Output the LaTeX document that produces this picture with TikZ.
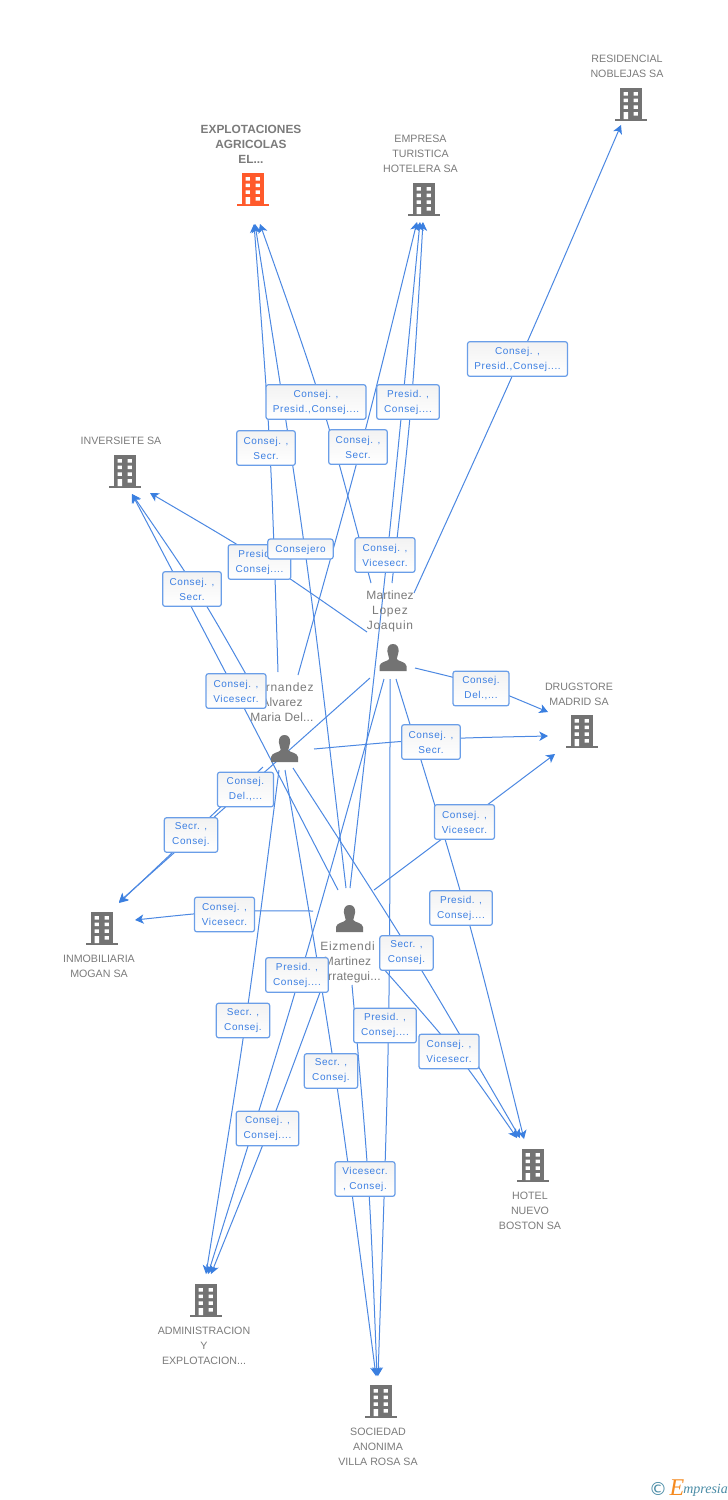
\documentclass[tikz,border=0pt]{standalone}
\usepackage{fontspec}
\setmainfont{Liberation Sans}
\newfontfamily\labfont[LetterSpace=6]{Liberation Sans}
\newfontfamily\pertight[LetterSpace=1.5]{Liberation Sans}
\newfontfamily\logofont{Liberation Serif}
\newfontfamily\symfont{DejaVu Sans}
\usetikzlibrary{arrows.meta,calc}
\definecolor{edgeblue}{HTML}{4C88E2}
\definecolor{tipblue}{HTML}{3A7FE0}
\definecolor{boxblue}{HTML}{6A9EE8}
\definecolor{labblue}{HTML}{3C7FE2}
\definecolor{icongrey}{HTML}{737373}
\definecolor{textgrey}{HTML}{7B7B7B}
\definecolor{hotorange}{HTML}{FF5A2B}
\definecolor{logoteal}{HTML}{4A8CA6}
\definecolor{logoorange}{HTML}{F58A1F}
\newcommand{\tightline}[1]{{\pertight\fontsize{9}{11.25}\selectfont #1}}
\tikzset{
  edge/.style={draw=edgeblue,line width=0.75pt,-{Stealth[length=6.5pt,width=7pt,inset=1.8pt,color=tipblue]}},
  lab/.style={draw=boxblue,line width=0.9pt,rounded corners=1.8pt,top color=black!5,bottom color=white,
    inner sep=0pt,minimum height=26pt,align=center,text=labblue,font=\labfont\fontsize{7.5}{11.25}\selectfont,
    execute at begin node=\rule{0pt}{7pt}},
  cotext/.style={align=center,text=textgrey,inner sep=0pt,font=\fontsize{8}{11.25}\selectfont},
  cobold/.style={align=center,text=textgrey,inner sep=0pt,font=\bfseries\fontsize{8.9}{11.25}\selectfont},
  pertext/.style={align=center,text=textgrey,inner sep=0pt,font=\labfont\fontsize{9}{11.25}\selectfont},
  pics/bldg/.style={code={
    \fill[#1] (-11,0) rectangle (11,32);
    \fill[#1] (-16,31) rectangle (16,33);
    \fill[white] (-7.5,4) rectangle (-3.2,7.5) (2.5,4) rectangle (6.8,7.5)
      (-7.5,10.7) rectangle (-3.2,14.2) (2.5,10.7) rectangle (6.8,14.2)
      (-7.5,17.4) rectangle (-3.2,20.9) (2.5,17.4) rectangle (6.8,20.9)
      (-7.5,24) rectangle (-3,31) (2.5,24) rectangle (6.8,27.5);
  }},
  pics/pers/.style={code={
    \fill[icongrey] (0,0) .. controls (3.8,0) and (6,3) .. (5.6,7.5)
      .. controls (5.3,11) and (3.8,13) .. (3.8,15) .. controls (5,17.5) and (13,17.5) .. (13.5,22)
      -- (13.5,27) -- (-13.5,27) -- (-13.5,22) .. controls (-13,17.5) and (-5,17.5) .. (-3.8,15)
      .. controls (-3.8,13) and (-5.3,11) .. (-5.6,7.5) .. controls (-6,3) and (-3.8,0) .. (0,0) -- cycle;
  }}
}
\begin{document}
\begin{tikzpicture}[x=0.75pt,y=-0.75pt]
\useasboundingbox (0,0) rectangle (728,1500);
\fill[white] (0,0) rectangle (728,1500);
% free ends of the connectors
\coordinate (a1) at (371,583); \coordinate (x1) at (260,224);
\coordinate (a2) at (278,672); \coordinate (x2) at (254,224);
\coordinate (a3) at (346,888); \coordinate (x3) at (255,224);
\coordinate (b1) at (392,583); \coordinate (m1) at (423,222);
\coordinate (b2) at (298,675); \coordinate (m2) at (417,222);
\coordinate (b3) at (350,888); \coordinate (m3) at (420,222);
\coordinate (c1) at (414,593); \coordinate (r1) at (621,125);
\coordinate (d1) at (367,632); \coordinate (i1) at (150,493);
\coordinate (d2) at (256,692); \coordinate (i2) at (132,494);
\coordinate (d3) at (338,890); \coordinate (i3) at (132,494);
\coordinate (e1) at (415,668); \coordinate (g1) at (548,712);
\coordinate (e2) at (314,749); \coordinate (g2) at (548,736);
\coordinate (e3) at (374,890); \coordinate (g3) at (555,754);
\coordinate (f1) at (370,678); \coordinate (n1) at (119,902);
\coordinate (f2) at (263,767); \coordinate (n2) at (119,903);
\coordinate (f3) at (313,911); \coordinate (n3) at (135,920);
\coordinate (h1) at (396,679); \coordinate (o1) at (524,1139);
\coordinate (h2) at (293,768); \coordinate (o2) at (520,1138);
\coordinate (h3) at (382,967); \coordinate (o3) at (517,1138);
\coordinate (j1) at (384,679); \coordinate (q1) at (208,1274);
\coordinate (j2) at (279,770); \coordinate (q2) at (206,1274);
\coordinate (j3) at (322,987); \coordinate (q3) at (211,1274);
\coordinate (k1) at (390,679); \coordinate (s1) at (378,1376);
\coordinate (k2) at (285,770); \coordinate (s2) at (376,1376);
\coordinate (k3) at (352,985); \coordinate (s3) at (377,1376);
% connectors (slightly bowed)
\foreach \u/\v/\dx/\dy in {a1/x1/8/0,a2/x2/5/0,a3/x3/7/0,b1/m1/5/0,b2/m2/4/0,b3/m3/3/0,c1/r1/3/0,
  d1/i1/0/-6,d2/i2/6/0,d3/i3/1/0,e1/g1/0/-6,e2/g2/0/-4,e3/g3/0/0,f1/n1/0/0,f2/n2/0/0,f3/n3/0/-5,
  h1/o1/7/0,h2/o2/6/0,h3/o3/8/0,j1/q1/5/0,j2/q2/4/0,j3/q3/2.5/0,k1/s1/6/0,k2/s2/6/0,k3/s3/5/0}
  \draw[edge] (\u) .. controls ($(\u)!.5!(\v)+(\dx,\dy)$) .. (\v);
% companies
\pic at (631,88) {bldg=icongrey};
\pic at (253,173) {bldg=hotorange};
\pic at (424,183) {bldg=icongrey};
\pic at (125,455) {bldg=icongrey};
\pic at (582,715) {bldg=icongrey};
\pic at (102,912) {bldg=icongrey};
\pic at (533,1149) {bldg=icongrey};
\pic at (206,1284) {bldg=icongrey};
\pic at (381,1385) {bldg=icongrey};
\node[cotext] (tres) at (627,66) {RESIDENCIAL\\NOBLEJAS SA};
\node[cobold] (texp) at (251,144) {EXPLOTACIONES\\AGRICOLAS\\EL...};
\node[cotext] (temp) at (420.5,154) {EMPRESA\\TURISTICA\\HOTELERA SA};
\node[cotext] (tinv) at (121,441) {INVERSIETE SA};
\node[cotext] (tdru) at (579,694) {DRUGSTORE\\MADRID SA};
\node[cotext] (tinm) at (99,966) {INMOBILIARIA\\MOGAN SA};
\node[cotext] (thot) at (530,1211) {HOTEL\\NUEVO\\BOSTON SA};
\node[cotext] (tadm) at (204,1346) {ADMINISTRACION\\Y\\EXPLOTACION...};
\node[cotext] (tsoc) at (378,1447) {SOCIEDAD\\ANONIMA\\VILLA ROSA SA};
% persons
\pic at (393,644) {pers};
\pic at (284.5,735) {pers};
\pic at (349.5,905) {pers};
\node[pertext] (pmar) at (390,611) {\tightline{Martinez}\\Lopez\\Joaquin};
\node[pertext] (pfer) at (282,702) {Fernandez\\\tightline{Alvarez}\\\tightline{Maria Del...}};
\node[pertext] (peiz) at (347.5,962) {Eizmendi\\\tightline{Martinez}\\\tightline{Iturrategui...}};
% connector labels
\node[lab,minimum width=75pt] (l1) at (316,402) {Consej. ,\\Presid.,Consej....};
\node[lab,minimum width=75pt] (l2) at (517.5,359) {Consej. ,\\Presid.,Consej....};
\node[lab,minimum width=47pt] (l3) at (408,402) {Presid. ,\\Consej....};
\node[lab,minimum width=44pt] (l4) at (266,448) {Consej. ,\\Secr.};
\node[lab,minimum width=44pt] (l5) at (358,447) {Consej. ,\\Secr.};
\node[lab,minimum width=47pt] (l6) at (259.5,562) {Presid. ,\\Consej....};
\node[lab,minimum width=49pt,minimum height=15pt] (l7) at (300.5,549) {Consejero};
\node[lab,minimum width=45pt] (l8) at (385,555) {Consej. ,\\Vicesecr.};
\node[lab,minimum width=44pt] (l9) at (192,589) {Consej. ,\\Secr.};
\node[lab,minimum width=45pt] (l10) at (236,691) {Consej. ,\\Vicesecr.};
\node[lab,minimum width=42pt] (l11) at (481,688.5) {Consej.\\Del.,...};
\node[lab,minimum width=44pt] (l12) at (431,742) {Consej. ,\\Secr.};
\node[lab,minimum width=42pt] (l13) at (245.5,789.5) {Consej.\\Del.,...};
\node[lab,minimum width=40pt] (l14) at (191,835) {Secr. ,\\Consej.};
\node[lab,minimum width=45pt] (l15) at (464.5,822) {Consej. ,\\Vicesecr.};
\node[lab,minimum width=45pt] (l16) at (224.5,914.5) {Consej. ,\\Vicesecr.};
\node[lab,minimum width=47pt] (l17) at (461,908) {Presid. ,\\Consej....};
\node[lab,minimum width=40pt] (l18) at (406.5,953) {Secr. ,\\Consej.};
\node[lab,minimum width=47pt] (l19) at (297,975) {Presid. ,\\Consej....};
\node[lab,minimum width=40pt] (l20) at (243,1020.5) {Secr. ,\\Consej.};
\node[lab,minimum width=47pt] (l21) at (385,1025.5) {Presid. ,\\Consej....};
\node[lab,minimum width=45pt] (l22) at (449,1051.5) {Consej. ,\\Vicesecr.};
\node[lab,minimum width=40pt] (l23) at (331,1071) {Secr. ,\\Consej.};
\node[lab,minimum width=47pt] (l24) at (267.5,1128.5) {Consej. ,\\Consej....};
\node[lab,minimum width=45pt] (l25) at (365,1179) {Vicesecr.\\, Consej.};
% logo
\node[text=logoteal,inner sep=0pt,font=\symfont\fontsize{13.5}{13.5}\selectfont] (lc) at (658,1489) {©};
\node[text=logoorange,inner sep=0pt,font=\logofont\itshape\fontsize{18}{18}\selectfont] (le) at (677,1488) {E};
\node[text=logoteal,inner sep=0pt,anchor=west,font=\logofont\itshape\fontsize{10.5}{10.5}\selectfont] (lm) at (683,1490) {mpresia};
\end{tikzpicture}
\end{document}
